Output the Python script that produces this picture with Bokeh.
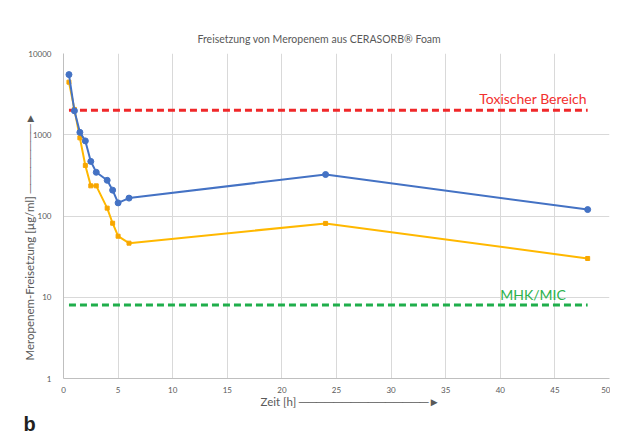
from bokeh.plotting import figure
from bokeh.models import Range1d, FixedTicker, BasicTickFormatter, Title
from bokeh.core.properties import value
from bokeh.embed import file_html
from bokeh.resources import INLINE

# ---- data ----
time_h = [0.5, 1, 1.5, 2, 2.5, 3, 4, 4.5, 5, 6, 24, 48]
release_blue = [5500, 1970, 1070, 840, 470, 345, 275, 208, 145, 166, 324, 120]
release_orange = [4440, 2050, 916, 419, 235, 235, 125, 81.5, 56.4, 46.3, 81, 30]

toxic_level = 2000
mic_level = 8
ref_x = [0.5, 48]
label_x = 43

x_ticks = [0, 5, 10, 15, 20, 25, 30, 35, 40, 45, 50]
y_ticks = [1, 10, 100, 1000, 10000]

title_text = "Freisetzung von Meropenem aus CERASORB® Foam"
ylabel_text = "Meropenem-Freisetzung [µg/ml]"
xlabel_text = "Zeit [h]"
toxic_text = "Toxischer Bereich"
mic_text = "MHK/MIC"
panel_text = "b"
arrow_y = " " + "\u2500" * 8 + "\u25BA"
arrow_x = "  " + "\u2500" * 15 + "\u25BA"

FONT = "Lato"
GRAY = "#595959"

p = figure(width=610, height=440, x_range=Range1d(0, 50), y_range=Range1d(1, 10000),
           y_axis_type="log", output_backend="svg", toolbar_location=None,
           min_border_left=63, min_border_right=1, min_border_top=53, min_border_bottom=62)
p.outline_line_color = None
p.background_fill_color = "white"
p.border_fill_color = "white"

# title
p.title.text = title_text
p.title.align = "left"
p.title.offset = 134
p.title.text_font = FONT
p.title.text_font_size = "10.5px"
p.title.text_font_style = "normal"
p.title.text_color = GRAY
p.title.standoff = 18

p.xaxis.ticker = FixedTicker(ticks=x_ticks)
p.yaxis.ticker = FixedTicker(ticks=y_ticks)
p.yaxis.formatter = BasicTickFormatter()
for ax in (p.xaxis, p.yaxis):
    ax.major_tick_line_color = None
    ax.minor_tick_line_color = None
    ax.axis_line_color = "#bfbfbf"
    ax.major_label_text_font = FONT
    ax.major_label_text_font_size = "8px"
    ax.major_label_text_color = GRAY
p.yaxis.major_label_standoff = 6
p.xaxis.major_label_standoff = 2
p.xgrid.grid_line_color = "#d9d9d9"
p.ygrid.grid_line_color = "#d9d9d9"

# axis titles with arrows, and the panel letter
p.add_layout(Title(text=ylabel_text + arrow_y, align="left", offset=18, standoff=-20,
                   text_font=FONT, text_font_size="11.5px", text_font_style="normal",
                   text_color=GRAY), "left")
p.add_layout(Title(text=xlabel_text + arrow_x, align="left", offset=197, standoff=-6,
                   text_font=FONT, text_font_size="11.5px", text_font_style="normal",
                   text_color=GRAY), "below")
p.add_layout(Title(text=panel_text, align="left", offset=-40, standoff=12,
                   text_font="Liberation Sans", text_font_size="20px", text_font_style="bold",
                   text_color="#231f20"), "below")

# reference lines
p.line(ref_x, [toxic_level] * 2, line_color="#f0282a", line_width=3, line_dash="7 4")
p.line(ref_x, [mic_level] * 2, line_color="#1fae4b", line_width=3, line_dash="7 4")
p.text([label_x], [toxic_level], text=[toxic_text], text_align="center", text_baseline="middle",
       y_offset=-12, text_font=value(FONT), text_font_size="14px", text_color="#f2302e")
p.text([label_x], [mic_level], text=[mic_text], text_align="center", text_baseline="middle",
       y_offset=-11, text_font=value(FONT), text_font_size="14px", text_color="#2bb24c")

# series
p.line(time_h, release_orange, line_color="#ffb800", line_width=2)
p.scatter(time_h, release_orange, marker="square", size=4, color="#f7a600")
p.line(time_h, release_blue, line_color="#4472c4", line_width=2)
p.scatter(time_h, release_blue, marker="circle", size=6, color="#4472c4")

open("out.html", "w").write(file_html(p, INLINE))
